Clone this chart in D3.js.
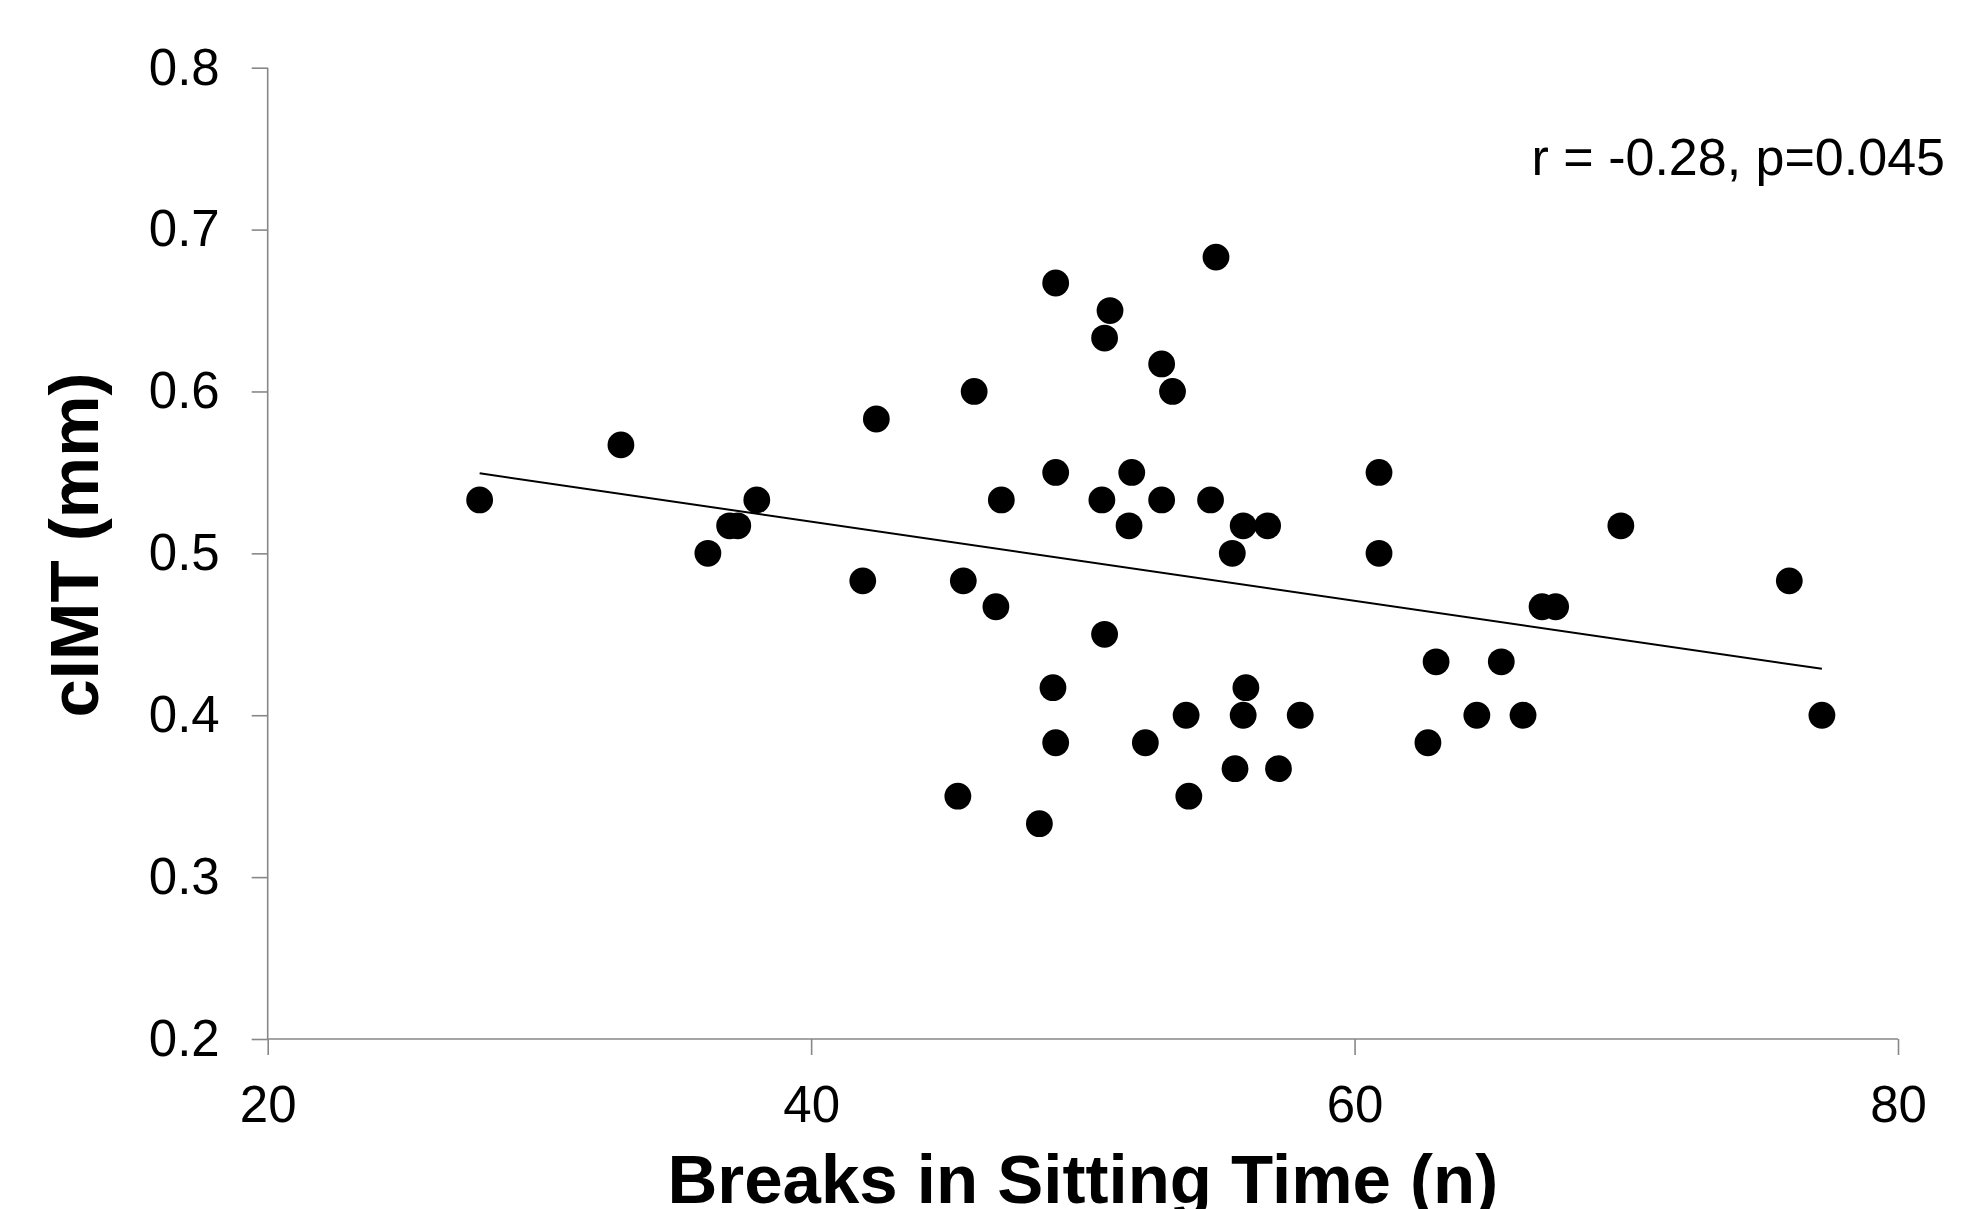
<!DOCTYPE html>
<html>
<head>
<meta charset="utf-8">
<script src="https://cdnjs.cloudflare.com/ajax/libs/d3/7.8.5/d3.min.js"></script>
<style>
  body { margin: 0; background: #fff; }
  svg text { font-family: "Liberation Sans", Arial, sans-serif; fill: #000; }
  .axis path, .axis line { stroke: #878787; stroke-width: 1.6; }
</style>
</head>
<body>
<div class="visHolder"></div>
<script>
// breaks in sitting time (n)
const breaks = [27.8, 33.0, 36.2, 37.0, 37.3, 38.0, 41.9, 42.4, 45.4, 45.6,
  46.0, 46.8, 47.0, 48.4, 48.9, 49.0, 49.0, 49.0, 50.7, 50.8,
  50.8, 51.0, 51.7, 51.8, 52.3, 52.9, 52.9, 53.3, 53.8, 53.9,
  54.7, 54.9, 55.5, 55.6, 55.9, 55.9, 56.0, 56.8, 57.2, 58.0,
  60.9, 60.9, 62.7, 63.0, 64.5, 65.4, 66.2, 66.9, 67.4, 69.8,
  76.0, 77.2];
// cIMT (mm)
const cimt = [0.533, 0.567, 0.500, 0.517, 0.517, 0.533, 0.483, 0.583, 0.350, 0.483,
  0.600, 0.467, 0.533, 0.333, 0.417, 0.667, 0.550, 0.383, 0.533, 0.633,
  0.450, 0.650, 0.517, 0.550, 0.383, 0.617, 0.533, 0.600, 0.400, 0.350,
  0.533, 0.683, 0.500, 0.367, 0.517, 0.400, 0.417, 0.517, 0.367, 0.400,
  0.550, 0.500, 0.383, 0.433, 0.400, 0.433, 0.400, 0.467, 0.467, 0.517,
  0.483, 0.400];
const xTicks = [20, 40, 60, 80];
const yTicks = [0.2, 0.3, 0.4, 0.5, 0.6, 0.7, 0.8];
const note = 'r = -0.28, p=0.045';

const w = 1981;
const h = 1209;

const svg = d3.select('.visHolder')
  .append('svg')
  .attr('width', w)
  .attr('height', h);

const xScale = d3.scaleLinear().domain([20, 80]).range([267.7, 1898]);
const yScale = d3.scaleLinear().domain([0.2, 0.8]).range([1039, 67.7]);

const xAxis = d3.axisBottom(xScale)
  .tickValues(xTicks)
  .tickSize(16)
  .tickPadding(31)
  .tickFormat(d3.format('d'));
svg.append('g')
  .attr('class', 'axis')
  .attr('transform', 'translate(0,' + yScale(0.2) + ')')
  .call(xAxis);

const yAxis = d3.axisLeft(yScale)
  .tickValues(yTicks)
  .tickSize(16)
  .tickPadding(32)
  .tickFormat(d3.format('.1f'));
svg.append('g')
  .attr('class', 'axis')
  .attr('transform', 'translate(' + xScale(20) + ',0)')
  .call(yAxis);

svg.selectAll('.axis text')
  .style('font-size', '51px');
svg.selectAll('.axis .domain')
  .attr('d', function () {
    return d3.select(this.parentNode).attr('transform').indexOf('translate(0') === 0
      ? 'M0,0H' + (xScale(80) - xScale(20))
      : 'M0,' + yScale(0.8) + 'V' + yScale(0.2);
  })
  .attr('transform', function () {
    return d3.select(this.parentNode).attr('transform').indexOf('translate(0') === 0
      ? 'translate(' + xScale(20) + ',0)' : null;
  });

// least squares trend line
const mx = d3.mean(breaks);
const my = d3.mean(cimt);
let sxy = 0, sxx = 0;
breaks.forEach((x, i) => {
  sxy += (x - mx) * (cimt[i] - my);
  sxx += (x - mx) * (x - mx);
});
const slope = sxy / sxx;
const icpt = my - slope * mx;
const xr = d3.extent(breaks);

svg.append('line')
  .attr('x1', xScale(xr[0]))
  .attr('y1', yScale(icpt + slope * xr[0]))
  .attr('x2', xScale(xr[1]))
  .attr('y2', yScale(icpt + slope * xr[1]))
  .attr('stroke', '#000')
  .attr('stroke-width', 2);

svg.selectAll('circle')
  .data(breaks)
  .enter()
  .append('circle')
  .attr('cx', d => xScale(d))
  .attr('cy', (d, i) => yScale(cimt[i]))
  .attr('r', 13.4)
  .attr('fill', '#000');

svg.append('text')
  .attr('x', 1945)
  .attr('y', 175)
  .attr('text-anchor', 'end')
  .style('font-size', '52px')
  .text(note);

svg.append('text')
  .attr('x', (xScale(20) + xScale(80)) / 2)
  .attr('y', 1203)
  .attr('text-anchor', 'middle')
  .style('font-size', '69px')
  .style('font-weight', 'bold')
  .text('Breaks in Sitting Time (n)');

svg.append('text')
  .attr('transform', 'translate(98,545) rotate(-90)')
  .attr('text-anchor', 'middle')
  .style('font-size', '69px')
  .style('font-weight', 'bold')
  .text('cIMT (mm)');
</script>
</body>
</html>
